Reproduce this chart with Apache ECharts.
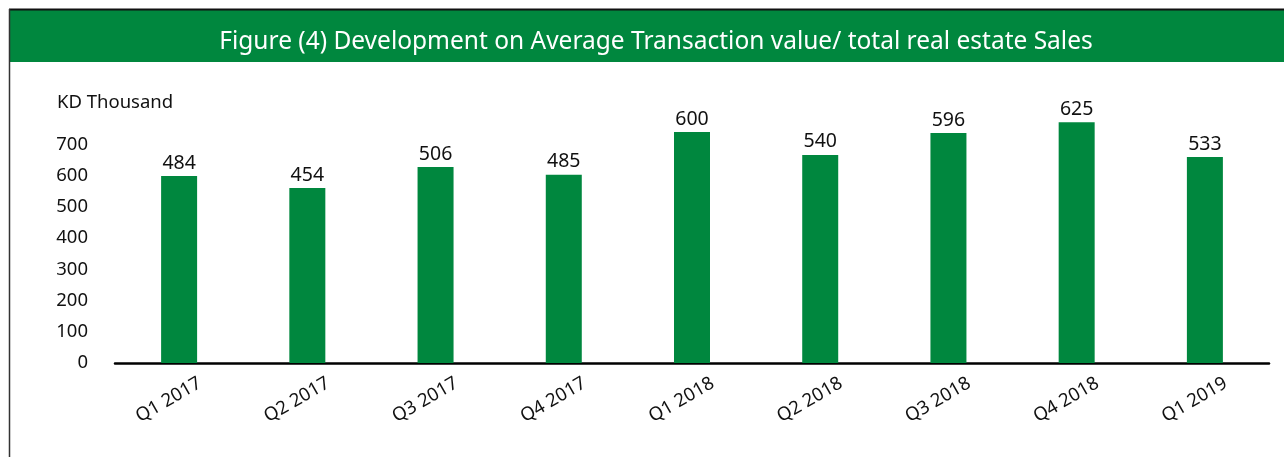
<!DOCTYPE html>
<html>
<head>
<meta charset="utf-8">
<style>
  html, body { margin: 0; padding: 0; background: #fff; }
  #chart { width: 1284px; height: 457px; }
</style>
<script src="https://cdn.jsdelivr.net/npm/echarts@6/dist/echarts.min.js"></script>
</head>
<body>
<div id="chart"></div>
<script>
// quarters on the x axis
var quarters = ['Q1 2017', 'Q2 2017', 'Q3 2017', 'Q4 2017', 'Q1 2018', 'Q2 2018', 'Q3 2018', 'Q4 2018', 'Q1 2019'];
// bar heights as drawn against the axis
var barHeights = [599, 561, 628, 603, 740, 667, 737, 772, 660];
// numbers printed above the bars
var barLabels = [484, 454, 506, 485, 600, 540, 596, 625, 533];
// y tick values shown
var yTicks = [0, 100, 200, 300, 400, 500, 600, 700];

var green = '#00873e';
var font = '"Noto Sans", "Open Sans", sans-serif';

var chart = echarts.init(document.getElementById('chart'));
var option = {
    animation: false,
    title: {
        text: 'Figure (4) Development on Average Transaction value/ total real estate Sales',
        left: 651,
        top: 37,
        textAlign: 'center',
        textVerticalAlign: 'middle',
        textStyle: { color: '#fff', fontSize: 24.5, fontWeight: 'normal', fontFamily: font }
    },
    graphic: [
        { type: 'rect', z: -1, shape: { x: 10, y: 10, width: 1274, height: 52 }, style: { fill: green } },
        { type: 'line', z: 0, shape: { x1: 9, y1: 9.5, x2: 1284, y2: 9.5 }, style: { stroke: '#111', lineWidth: 2 } },
        { type: 'line', z: 0, shape: { x1: 9.5, y1: 9, x2: 9.5, y2: 457 }, style: { stroke: '#333', lineWidth: 1.5 } },
        { type: 'text', left: 57, top: 93, style: { text: 'KD Thousand', fill: '#111', fontSize: 18.5, fontFamily: font } }
    ],
    grid: { left: 115, right: 15, top: 113.4, bottom: 94 },
    xAxis: {
        type: 'category',
        data: quarters,
        axisLine: { lineStyle: { color: '#000', width: 2.5 } },
        axisTick: { show: false },
        axisLabel: {
            rotate: 30,
            margin: 31,
            align: 'center',
            verticalAlign: 'middle',
            padding: [0, 24, 0, 0],
            color: '#111',
            fontSize: 18.5,
            fontFamily: font
        }
    },
    yAxis: {
        type: 'value',
        min: 0,
        max: 800,
        interval: 100,
        axisLine: { show: false },
        axisTick: { show: false },
        splitLine: { show: false },
        axisLabel: {
            margin: 27,
            color: '#111',
            fontSize: 18.5,
            fontFamily: font,
            formatter: function (v) { return yTicks.indexOf(v) >= 0 ? String(v) : ''; }
        }
    },
    series: [{
        type: 'bar',
        data: barHeights,
        barWidth: 36,
        itemStyle: { color: green },
        label: {
            show: true,
            position: 'top',
            distance: 3,
            color: '#111',
            fontSize: 19.5,
            fontFamily: font,
            formatter: function (p) { return barLabels[p.dataIndex]; }
        }
    }]
};
chart.setOption(option);
</script>
</body>
</html>
